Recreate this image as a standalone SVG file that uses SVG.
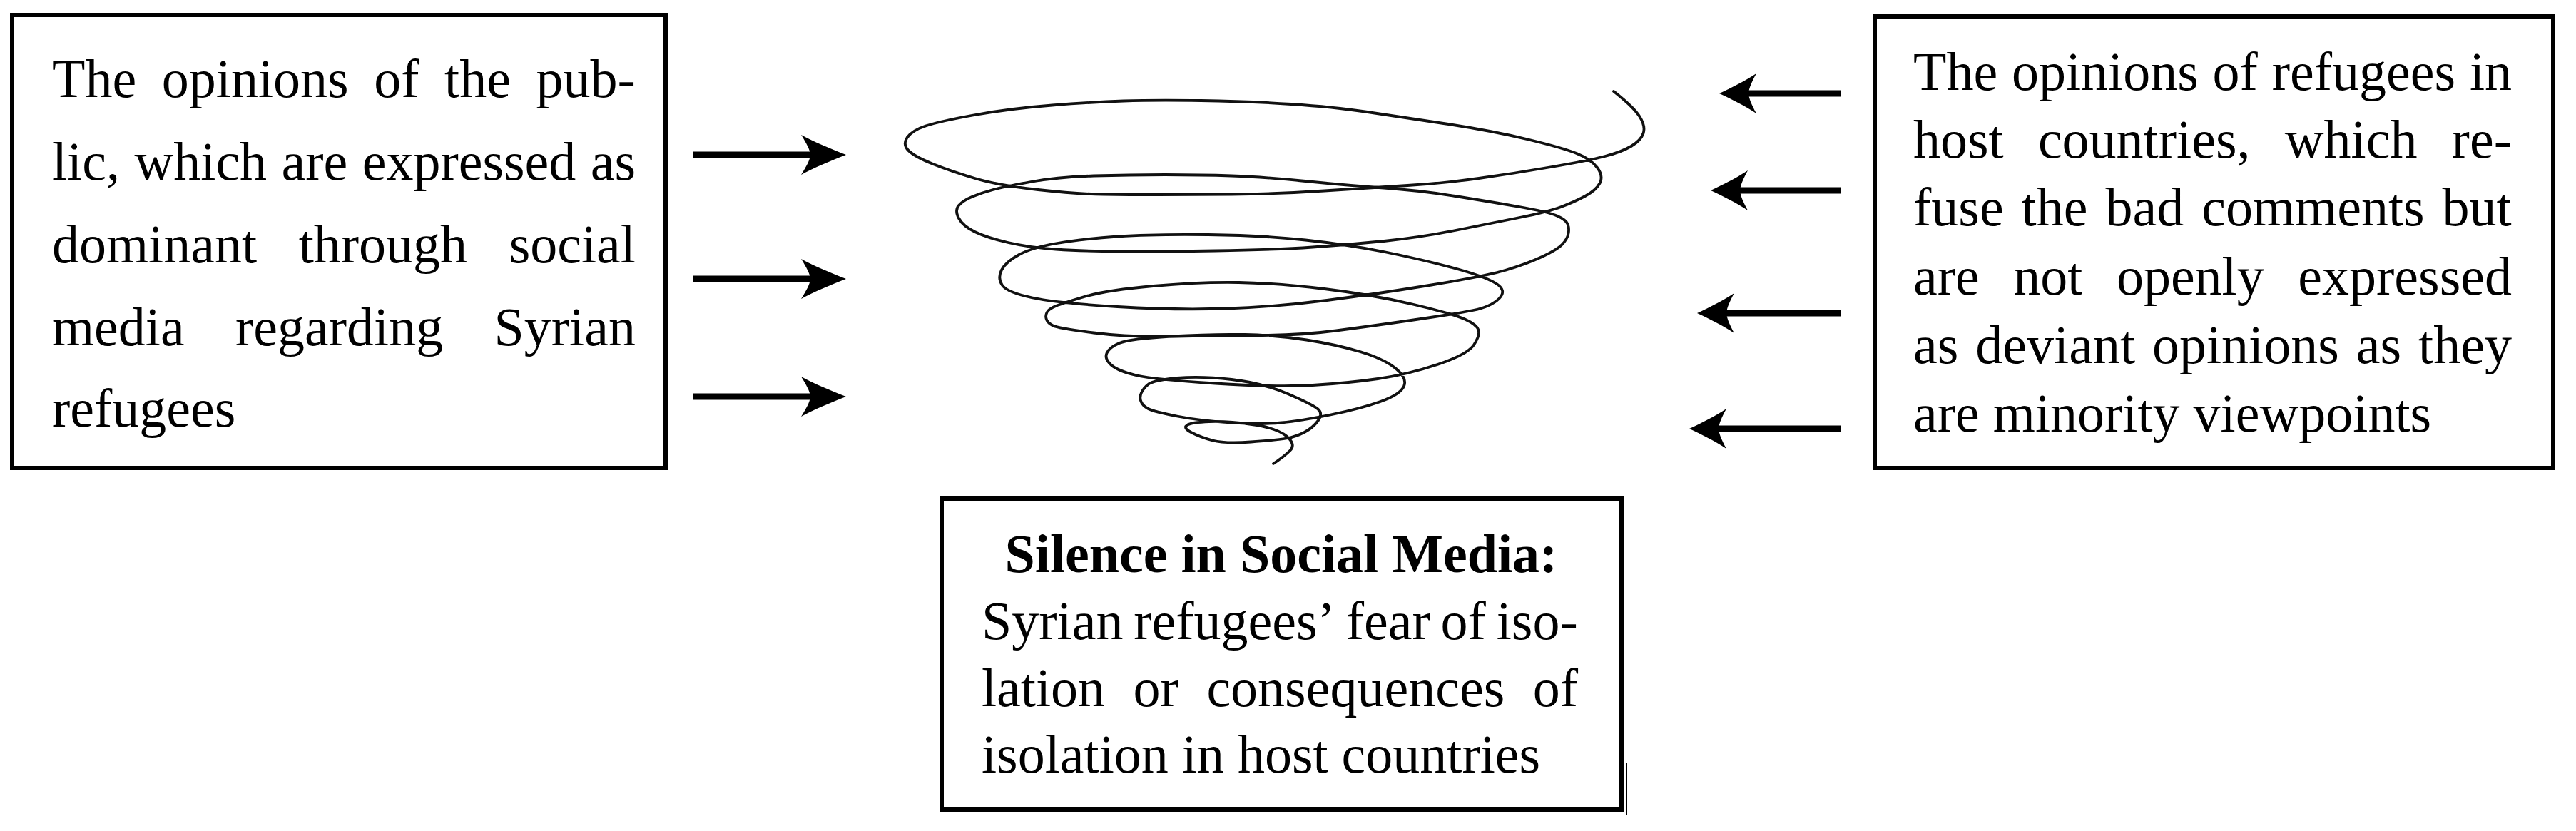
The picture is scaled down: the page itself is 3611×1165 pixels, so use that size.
<svg xmlns="http://www.w3.org/2000/svg" xmlns:xlink="http://www.w3.org/1999/xlink" width="3611" height="1165" viewBox="0 0 3611 1165">
<style>
.box{fill:#fff;stroke:#000;stroke-width:6}
.t{font-family:"Liberation Serif","Times New Roman",serif;font-size:76px;fill:#000}
.b{font-weight:bold}
.shaft{stroke:#000;stroke-width:9;fill:none}
.head{fill:#000;stroke:none}
.spiral{fill:none;stroke:#111;stroke-width:3.8;stroke-linecap:round;stroke-linejoin:round}
</style>
<defs>
<path id="headR" d="M0 0 C-20 -8 -45 -18 -63 -28 C-55 -15 -51 -8 -50 0 C-51 8 -55 15 -63 28 C-45 18 -20 8 0 0 Z"/>
<path id="headL" d="M0 0 C17 -8 37 -18 52 -28 C45 -15 42 -8 41 0 C42 8 45 15 52 28 C37 18 17 8 0 0 Z"/>
</defs>
<rect width="3611" height="1165" fill="#fff"/>

<g id="left-box">
<rect class="box" x="17" y="21" width="916" height="635"/>
<text class="t" y="136"><tspan x="73">The</tspan><tspan x="226.8">opinions</tspan><tspan x="524.2">of</tspan><tspan x="623.1">the</tspan><tspan x="751.6">pub-</tspan></text>
<text class="t" y="252"><tspan x="73">lic,</tspan><tspan x="188.4">which</tspan><tspan x="394.5">are</tspan><tspan x="507.7">expressed</tspan><tspan x="827.8">as</tspan></text>
<text class="t" y="368"><tspan x="73">dominant</tspan><tspan x="418.7">through</tspan><tspan x="713.7">social</tspan></text>
<text class="t" y="484"><tspan x="73">media</tspan><tspan x="330">regarding</tspan><tspan x="692.5">Syrian</tspan></text>
<text class="t" y="598"><tspan x="73">refugees</tspan></text>
</g>

<g id="right-box">
<rect class="box" x="2628" y="23" width="951" height="633"/>
<text class="t" y="126"><tspan x="2682">The</tspan><tspan x="2820">opinions</tspan><tspan x="3101.6">of</tspan><tspan x="3184.7">refugees</tspan><tspan x="3461.9">in</tspan></text>
<text class="t" y="221"><tspan x="2682">host</tspan><tspan x="2856.9">countries,</tspan><tspan x="3202.7">which</tspan><tspan x="3436.6">re-</tspan></text>
<text class="t" y="316"><tspan x="2682">fuse</tspan><tspan x="2833.6">the</tspan><tspan x="2951.5">bad</tspan><tspan x="3086.2">comments</tspan><tspan x="3423.6">but</tspan></text>
<text class="t" y="413"><tspan x="2682">are</tspan><tspan x="2822.3">not</tspan><tspan x="2966.9">openly</tspan><tspan x="3221.3">expressed</tspan></text>
<text class="t" y="509"><tspan x="2682">as</tspan><tspan x="2769.3">deviant</tspan><tspan x="3017">opinions</tspan><tspan x="3302.8">as</tspan><tspan x="3390.1">they</tspan></text>
<text class="t" y="605"><tspan x="2682">are</tspan><tspan x="2793.8">minority</tspan><tspan x="3074.6">viewpoints</tspan></text>
</g>

<g id="bottom-box">
<rect class="box" x="1320" y="699" width="953" height="436"/>
<text class="t b" y="802"><tspan x="1408.5">Silence</tspan><tspan x="1655.5">in</tspan><tspan x="1737.9">Social</tspan><tspan x="1951.2">Media:</tspan></text>
<text class="t" y="896"><tspan x="1376">Syrian</tspan><tspan x="1589.2">refugees’</tspan><tspan x="1886.7">fear</tspan><tspan x="2019.6">of</tspan><tspan x="2097.7">iso-</tspan></text>
<text class="t" y="990"><tspan x="1376">lation</tspan><tspan x="1588.6">or</tspan><tspan x="1691.4">consequences</tspan><tspan x="2148.7">of</tspan></text>
<text class="t" y="1083"><tspan x="1376">isolation</tspan><tspan x="1656.8">in</tspan><tspan x="1734.9">host</tspan><tspan x="1880.6">countries</tspan></text>
<line x1="2280" y1="1069" x2="2280" y2="1143" stroke="#000" stroke-width="2"/>
</g>

<g id="spiral">
<path class="spiral" d="M2262 128 Q2290 150 2298.5 163.5 Q2307 177 2303.5 187 Q2300 197 2286.5 205 Q2273 213 2250 219 Q2227 225 2175 234 Q2123 243 2073 250 Q2023 257 1973 260 Q1923 263 1856.5 267.5 Q1790 272 1726.5 272.5 Q1663 273 1623 273 Q1583 273 1546.5 272.5 Q1510 272 1455 266 Q1400 260 1366.5 250 Q1333 240 1308 230 Q1283 220 1274 211.5 Q1265 203 1271.5 193 Q1278 183 1297.5 176.5 Q1317 170 1367 161 Q1417 152 1475 147.5 Q1533 143 1575 141.5 Q1617 140 1683.5 141 Q1750 142 1810 146 Q1870 150 1913.5 156.5 Q1957 163 2023.5 173 Q2090 183 2140 195 Q2190 207 2210 215 Q2230 223 2239 235 Q2248 247 2242.5 257 Q2237 267 2222 275 Q2207 283 2188.5 290 Q2170 297 2130 305 Q2090 313 2040 323 Q1990 333 1940 338 Q1890 343 1840 346.5 Q1790 350 1703.5 351.5 Q1617 353 1567 352.5 Q1517 352 1480 349.5 Q1443 347 1413 340 Q1383 333 1366.5 325 Q1350 317 1344 306 Q1338 295 1344 288 Q1350 281 1363.5 275.5 Q1377 270 1392 266 Q1407 262 1445 255 Q1483 248 1533 246.5 Q1583 245 1633 245 Q1683 245 1726.5 246.5 Q1770 248 1830 254 Q1890 260 1940 263.5 Q1990 267 2040 275 Q2090 283 2130 290 Q2170 297 2182.5 302.5 Q2195 308 2197.5 314 Q2200 320 2198.5 327.5 Q2197 335 2190 342.5 Q2183 350 2161.5 360 Q2140 370 2111.5 378.5 Q2083 387 2006.5 399.5 Q1930 412 1860 421 Q1790 430 1720 432.5 Q1650 435 1566.5 430 Q1483 425 1447.5 417.5 Q1412 410 1405 400 Q1398 390 1404 378.5 Q1410 367 1428.5 357 Q1447 347 1482 341 Q1517 335 1567 331.5 Q1617 328 1693.5 329 Q1770 330 1830 336.5 Q1890 343 1940 353 Q1990 363 2035 375 Q2080 387 2096.5 397 Q2113 407 2101.5 418.5 Q2090 430 2065 435 Q2040 440 1981.5 448.5 Q1923 457 1873 463.5 Q1823 470 1770 470 Q1717 470 1650 471.5 Q1583 473 1533 466.5 Q1483 460 1476 456.5 Q1469 453 1467 448 Q1465 443 1467.5 438 Q1470 433 1480 429 Q1490 425 1520 416 Q1550 407 1616.5 401 Q1683 395 1736.5 396 Q1790 397 1856.5 405 Q1923 413 1980 426.5 Q2037 440 2053.5 447.5 Q2070 455 2072.5 462.5 Q2075 470 2066 483.5 Q2057 497 2015 511 Q1973 525 1931.5 531 Q1890 537 1840 540 Q1790 543 1703.5 537.5 Q1617 532 1592 526 Q1567 520 1557.5 511.5 Q1548 503 1551.5 495 Q1555 487 1569 481 Q1583 475 1641.5 471.5 Q1700 468 1745 469 Q1790 470 1831.5 476.5 Q1873 483 1906.5 493 Q1940 503 1956.5 516.5 Q1973 530 1968 541.5 Q1963 553 1935 563 Q1907 573 1865 581.5 Q1823 590 1796.5 592.5 Q1770 595 1726.5 592.5 Q1683 590 1650 583.5 Q1617 577 1609.5 573 Q1602 569 1599.5 563 Q1597 557 1600 550.5 Q1603 544 1610 538.5 Q1617 533 1650 530 Q1683 527 1726.5 532 Q1770 537 1805 552 Q1840 567 1847.5 573.5 Q1855 580 1847.5 590 Q1840 600 1828.5 606 Q1817 612 1803.5 614.5 Q1790 617 1753.5 619.5 Q1717 622 1700 617.5 Q1683 613 1670.5 606.5 Q1658 600 1664 596 Q1670 592 1695 591 Q1720 590 1755 595 Q1790 600 1803.5 611.5 Q1817 623 1808.5 631.5 Q1800 640 1785 650"/>
</g>

<g id="connectors">
<line class="shaft" x1="972" y1="217" x2="1140" y2="217"/>
<use href="#headR" xlink:href="#headR" class="head" transform="translate(1186 217)"/>
<line class="shaft" x1="972" y1="391" x2="1140" y2="391"/>
<use href="#headR" xlink:href="#headR" class="head" transform="translate(1186 391)"/>
<line class="shaft" x1="972" y1="556" x2="1140" y2="556"/>
<use href="#headR" xlink:href="#headR" class="head" transform="translate(1186 556)"/>

<line class="shaft" x1="2580" y1="131" x2="2448" y2="131"/>
<use href="#headL" xlink:href="#headL" class="head" transform="translate(2410 131)"/>
<line class="shaft" x1="2580" y1="267" x2="2436" y2="267"/>
<use href="#headL" xlink:href="#headL" class="head" transform="translate(2398 267)"/>
<line class="shaft" x1="2580" y1="439" x2="2417" y2="439"/>
<use href="#headL" xlink:href="#headL" class="head" transform="translate(2379 439)"/>
<line class="shaft" x1="2580" y1="601" x2="2406" y2="601"/>
<use href="#headL" xlink:href="#headL" class="head" transform="translate(2368 601)"/>
</g>
</svg>
